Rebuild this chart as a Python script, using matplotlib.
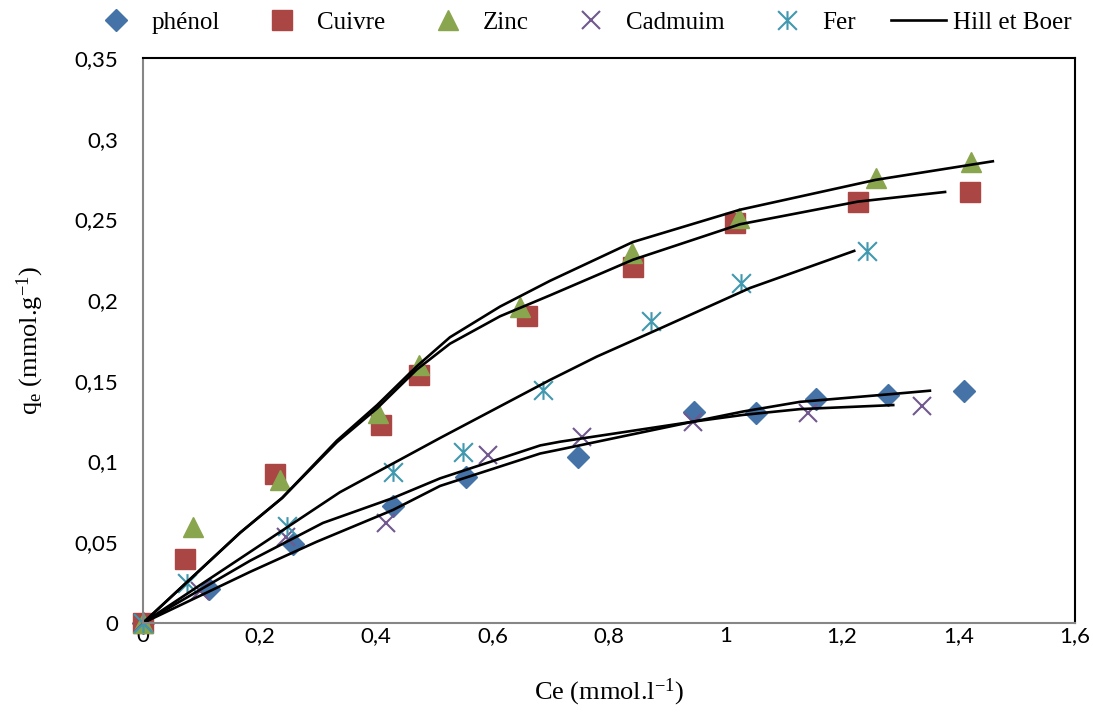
import matplotlib
matplotlib.use('Agg')
import matplotlib.pyplot as plt
from matplotlib.path import Path
from matplotlib.ticker import MultipleLocator, FuncFormatter

# measured points
phenol_x = [0, 0.113, 0.258, 0.429, 0.555, 0.746, 0.946, 1.052, 1.155, 1.279, 1.409]
phenol_y = [0, 0.021, 0.049, 0.0725, 0.0905, 0.103, 0.131, 0.1303, 0.139, 0.1413, 0.1437]

cuivre_x = [0, 0.072, 0.227, 0.409, 0.474, 0.659, 0.841, 1.016, 1.227, 1.420]
cuivre_y = [0, 0.0397, 0.0923, 0.1227, 0.1537, 0.1904, 0.2206, 0.248, 0.261, 0.267]

zinc_x = [0, 0.086, 0.236, 0.404, 0.474, 0.648, 0.839, 1.023, 1.258, 1.421]
zinc_y = [0, 0.0595, 0.0886, 0.130, 0.160, 0.1956, 0.229, 0.251, 0.2757, 0.2856]

cadmium_x = [0, 0.098, 0.246, 0.418, 0.592, 0.753, 0.944, 1.142, 1.337]
cadmium_y = [0, 0.020, 0.0535, 0.0618, 0.104, 0.1155, 0.1247, 0.1303, 0.1345]

fer_x = [0, 0.075, 0.248, 0.43, 0.549, 0.687, 0.872, 1.027, 1.243]
fer_y = [0, 0.0246, 0.060, 0.0937, 0.106, 0.1443, 0.187, 0.2107, 0.2305]

# Hill et Boer fitted curves
zinc_fit_x = [0, 0.167, 0.239, 0.333, 0.402, 0.47, 0.527, 0.613, 0.699, 0.841, 1.025, 1.258, 1.459]
zinc_fit_y = [0, 0.056, 0.0775, 0.113, 0.135, 0.159, 0.177, 0.196, 0.212, 0.236, 0.256, 0.2745, 0.286]

cuivre_fit_x = [0, 0.167, 0.239, 0.333, 0.402, 0.47, 0.527, 0.613, 0.699, 0.841, 1.025, 1.227, 1.377]
cuivre_fit_y = [0, 0.056, 0.0775, 0.112, 0.133, 0.157, 0.173, 0.190, 0.203, 0.225, 0.247, 0.261, 0.267]

fer_fit_x = [0, 0.167, 0.338, 0.51, 0.699, 0.779, 0.888, 1.042, 1.221]
fer_fit_y = [0, 0.040, 0.081, 0.1146, 0.1506, 0.165, 0.1825, 0.2075, 0.2305]

cadmium_fit_x = [0, 0.184, 0.309, 0.429, 0.51, 0.682, 0.716, 0.944, 1.03, 1.128, 1.288]
cadmium_fit_y = [0, 0.0386, 0.062, 0.0774, 0.0896, 0.110, 0.1123, 0.1247, 0.1289, 0.1325, 0.135]

phenol_fit_x = [0, 0.184, 0.298, 0.429, 0.51, 0.682, 0.716, 0.944, 1.03, 1.128, 1.288, 1.351]
phenol_fit_y = [0, 0.0317, 0.0503, 0.070, 0.0849, 0.105, 0.1075, 0.1247, 0.131, 0.137, 0.1419, 0.1439]

plt.rcParams['mathtext.fontset'] = 'custom'
plt.rcParams['mathtext.rm'] = 'Liberation Serif'
plt.rcParams['mathtext.it'] = 'Liberation Serif'

# excel-like star marker: X plus vertical bar
star = Path([(-0.5, -0.5), (0.5, 0.5), (-0.5, 0.5), (0.5, -0.5), (0, -0.5), (0, 0.5)],
            [Path.MOVETO, Path.LINETO, Path.MOVETO, Path.LINETO, Path.MOVETO, Path.LINETO])

fig = plt.figure(figsize=(10.93, 7.13), dpi=100)
ax = fig.add_axes([0.1308, 0.1262, 0.8527, 0.7925])

h1, = ax.plot(phenol_x, phenol_y, 'D', color='#4572A7', ms=11, mec='#4572A7', ls='none', label='phénol', clip_on=False)
h2, = ax.plot(cuivre_x, cuivre_y, 's', color='#AA4643', ms=14, mec='#AA4643', ls='none', label='Cuivre', clip_on=False)
h3, = ax.plot(zinc_x, zinc_y, '^', color='#89A54E', ms=14, mec='#89A54E', ls='none', label='Zinc', clip_on=False)
h4, = ax.plot(cadmium_x, cadmium_y, 'x', color='#71588F', ms=13, mew=1.5, ls='none', label='Cadmuim', clip_on=False)
h5, = ax.plot(fer_x, fer_y, marker=star, color='#4198AF', ms=13.5, mew=1.5, mfc='none', ls='none', label='Fer', clip_on=False)

lw = 1.9
h6, = ax.plot(zinc_fit_x, zinc_fit_y, color='black', lw=lw, label='Hill et Boer', solid_joinstyle='round')
ax.plot(cuivre_fit_x, cuivre_fit_y, color='black', lw=lw, solid_joinstyle='round')
ax.plot(fer_fit_x, fer_fit_y, color='black', lw=lw, solid_joinstyle='round')
ax.plot(cadmium_fit_x, cadmium_fit_y, color='black', lw=lw, solid_joinstyle='round')
ax.plot(phenol_fit_x, phenol_fit_y, color='black', lw=lw, solid_joinstyle='round')

ax.set_xlim(0, 1.6)
ax.set_ylim(0, 0.35)
ax.xaxis.set_major_locator(MultipleLocator(0.2))
ax.yaxis.set_major_locator(MultipleLocator(0.05))
fmt = FuncFormatter(lambda v, p: ('%g' % round(v, 3)).replace('.', ','))
ax.xaxis.set_major_formatter(fmt)
ax.yaxis.set_major_formatter(fmt)
ax.tick_params(axis='both', length=0, labelsize=16)
ax.tick_params(axis='y', pad=18)
ax.tick_params(axis='x', pad=2)
for lab in ax.get_xticklabels() + ax.get_yticklabels():
    lab.set_family('Lato')

for s in ['left', 'bottom']:
    ax.spines[s].set_color('#868686')
    ax.spines[s].set_linewidth(1.5)
for s in ['top', 'right']:
    ax.spines[s].set_color('black')
    ax.spines[s].set_linewidth(1.5)

ax.set_xlabel('Ce (mmol.l$^{\\mathrm{-1}}$)', family='Liberation Serif', fontsize=19, labelpad=22)
ax.set_ylabel('q$_{\\mathrm{e}}$ (mmol.g$^{\\mathrm{-1}}$)', family='Liberation Serif', fontsize=19, labelpad=20)

fig.legend(handles=[h1, h2, h3, h4, h5, h6], loc='upper center', bbox_to_anchor=(0.531, 1.005),
           ncol=6, frameon=False, prop={'family': 'Liberation Serif', 'size': 18},
           handlelength=2.2, handletextpad=0.3, columnspacing=1.4, borderaxespad=0.2)

fig.savefig('out.png', dpi=100)
